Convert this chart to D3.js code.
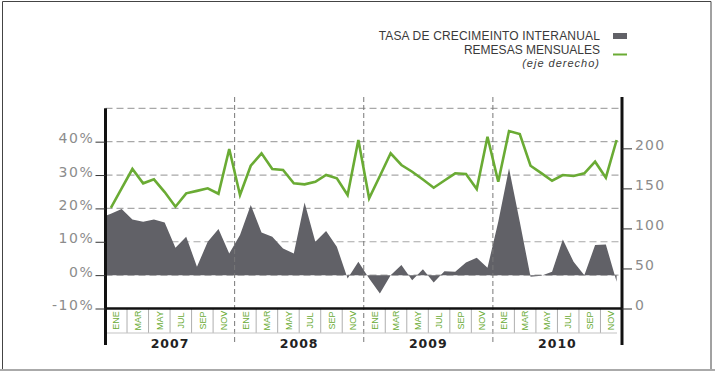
<!DOCTYPE html>
<html>
<head>
<meta charset="utf-8">
<script src="https://cdn.jsdelivr.net/npm/d3@7"></script>
<style>
  body { margin: 0; background: #fff; }
  svg { display: block; }
</style>
</head>
<body>
<div id="chart"></div>
<script>
// Data
const years = [2007, 2008, 2009, 2010];
const monthNames = ["ENE","FEB","MAR","ABR","MAY","JUN","JUL","AGO","SEP","OCT","NOV","DIC"];
const labelMonths = ["ENE","MAR","MAY","JUL","SEP","NOV"];

// remesas mensuales (eje derecho), ene 2007 - dic 2010
const remesas2007 = [125.8, 149.9, 174.2, 156.3, 161.3, 145.4, 127.1, 143.8, 146.9, 150.1, 143.3, 199.1];
const remesas2008 = [141.7, 178.3, 193.8, 174.2, 172.9, 156.3, 155.0, 158.3, 166.7, 162.5, 141.7, 210.4];
const remesas2009 = [137.6, 165.4, 193.8, 179.2, 170.8, 161.0, 150.8, 159.8, 168.8, 167.9, 149.2, 214.5];
const remesas2010 = [158.3, 221.6, 217.9, 178.3, 169.0, 159.6, 166.7, 165.4, 168.8, 183.3, 163.3, 210.4];

// tasa de crecimiento interanual (%), starts dic 2006 (clipped at the axis)
const crecimientoDic2006 = 17.2;
const crecimiento2007 = [18.4, 19.8, 16.7, 16.0, 16.7, 15.8, 8.2, 11.5, 2.5, 10.0, 13.8, 6.5];
const crecimiento2008 = [12.0, 21.0, 12.8, 11.5, 8.0, 6.5, 21.8, 10.0, 13.2, 8.5, -1.0, 4.0];
const crecimiento2009 = [-1.0, -5.5, 0.0, 3.0, -1.5, 1.8, -2.2, 1.2, 1.0, 3.8, 5.2, 2.2];
const crecimiento2010 = [16.0, 32.0, 16.0, -0.5, -0.2, 1.0, 10.7, 4.0, 0.0, 9.0, 9.2, -2.0];

const leftTicks = [-10, 0, 10, 20, 30, 40];
const gridTicks = [0, 10, 20, 30, 40, 50];
const rightTicks = [0, 50, 100, 150, 200];

const green = "#6aab34";
const grayFill = "#616167";

// build series
const remesas = [...remesas2007, ...remesas2008, ...remesas2009, ...remesas2010]
  .map((v, i) => ({ i, v }));
const crecimiento = [crecimientoDic2006, ...crecimiento2007, ...crecimiento2008, ...crecimiento2009, ...crecimiento2010]
  .map((v, i) => ({ i: i - 1, v }));

const width = 715, height = 371;
const plot = { left: 105.5, right: 622, top: 108.3, bottom: 308.5 };

const svg = d3.select('#chart').append('svg')
  .attr('width', width)
  .attr('height', height)
  .attr('viewBox', `0 0 ${width} ${height}`);

const x = d3.scaleLinear().domain([-0.5, 47.5]).range([plot.left, plot.right]);
const yL = d3.scaleLinear().domain([-10, 50]).range([plot.bottom, plot.top]);
const yR = d3.scaleLinear().domain([0, 250]).range([plot.bottom, plot.top]);

// frame
svg.append('path')
  .attr('d', `M2.5,369 V1.5 H711 V369`)
  .attr('fill', 'none')
  .attr('stroke', '#444')
  .attr('stroke-width', 1);
svg.append('rect')
  .attr('x', 0).attr('y', 369).attr('width', width).attr('height', 2)
  .attr('fill', '#aaa');

// clip
svg.append('clipPath').attr('id', 'plotclip')
  .append('rect')
  .attr('x', plot.left).attr('y', 90)
  .attr('width', plot.right - plot.left).attr('height', plot.bottom - 90);

// horizontal gridlines
svg.append('g')
  .attr('class', 'gridlines')
  .selectAll('line')
  .data(gridTicks)
  .join('line')
  .attr('x1', plot.left).attr('x2', plot.right)
  .attr('y1', d => yL(d)).attr('y2', d => yL(d))
  .attr('stroke', '#a8a8a8')
  .attr('stroke-width', 1.2)
  .attr('stroke-dasharray', '7,4');

// growth area
const area = d3.area()
  .x(d => x(d.i))
  .y0(yL(0))
  .y1(d => yL(d.v));

svg.append('path')
  .datum(crecimiento)
  .attr('clip-path', 'url(#plotclip)')
  .attr('d', area)
  .attr('fill', grayFill);

// year separators
svg.append('g')
  .selectAll('line')
  .data(years.slice(1))
  .join('line')
  .attr('x1', (d, k) => x((k + 1) * 12 - 0.5))
  .attr('x2', (d, k) => x((k + 1) * 12 - 0.5))
  .attr('y1', 97).attr('y2', 345)
  .attr('stroke', '#777')
  .attr('stroke-width', 1)
  .attr('stroke-dasharray', '5,3');

// remesas line
const line = d3.line()
  .x(d => x(d.i))
  .y(d => yR(d.v));

svg.append('path')
  .datum(remesas)
  .attr('d', line)
  .attr('fill', 'none')
  .attr('stroke', green)
  .attr('stroke-width', 2.6)
  .attr('stroke-linejoin', 'miter');

// month cells under the axis
const cells = [];
years.forEach((yr, k) => {
  labelMonths.forEach((m, j) => cells.push({ m, start: k * 12 + j * 2 }));
});

const cellG = svg.append('g');
cellG.selectAll('line.sep')
  .data(cells.filter(c => c.start % 12 !== 0))
  .join('line')
  .attr('class', 'sep')
  .attr('x1', d => x(d.start - 0.5)).attr('x2', d => x(d.start - 0.5))
  .attr('y1', plot.bottom).attr('y2', 333)
  .attr('stroke', '#9a9a9a')
  .attr('stroke-width', 0.8);

cellG.append('line')
  .attr('x1', plot.left).attr('x2', x(47.5) - 5)
  .attr('y1', 333).attr('y2', 333)
  .attr('stroke', '#c4c4c4')
  .attr('stroke-width', 1.2);

cellG.selectAll('text')
  .data(cells)
  .join('text')
  .attr('transform', d => `translate(${x(d.start + 0.5) + 3.2},320.5) rotate(-90)`)
  .attr('text-anchor', 'middle')
  .attr('font-family', 'Liberation Sans, Arial, sans-serif')
  .attr('font-size', 9)
  .attr('fill', green)
  .text(d => d.m);

// year labels
svg.append('g')
  .selectAll('text')
  .data(years)
  .join('text')
  .attr('x', (d, k) => x(k * 12 + 5.5))
  .attr('y', 347.5)
  .attr('text-anchor', 'middle')
  .attr('font-family', 'DejaVu Sans, sans-serif')
  .attr('font-weight', 'bold')
  .attr('font-size', 12.5)
  .attr('letter-spacing', 1)
  .attr('fill', '#222')
  .text(d => d);

// axes lines
svg.append('line')
  .attr('x1', plot.left).attr('x2', plot.left)
  .attr('y1', plot.top).attr('y2', 345)
  .attr('stroke', '#111').attr('stroke-width', 3);
svg.append('line')
  .attr('x1', plot.right).attr('x2', plot.right)
  .attr('y1', 97).attr('y2', 345)
  .attr('stroke', '#111').attr('stroke-width', 3);
svg.append('line')
  .attr('x1', plot.left).attr('x2', plot.right)
  .attr('y1', plot.bottom).attr('y2', plot.bottom)
  .attr('stroke', '#111').attr('stroke-width', 2.5);

// left axis
const yAxisL = d3.axisLeft(yL)
  .tickValues(leftTicks)
  .tickSize(10)
  .tickPadding(1)
  .tickFormat(d => d + '%');

const gL = svg.append('g')
  .attr('transform', `translate(${plot.left},0)`)
  .call(yAxisL);
gL.select('.domain').remove();
gL.selectAll('line').attr('stroke', '#333');
gL.selectAll('text')
  .attr('dy', 0)
  .attr('y', 1)
  .attr('font-family', 'DejaVu Sans, sans-serif')
  .attr('font-size', 14)
  .attr('letter-spacing', 1.6)
  .attr('fill', '#8c8c8c');

// right axis
const yAxisR = d3.axisRight(yR)
  .tickValues(rightTicks)
  .tickSize(10)
  .tickPadding(3);

const gR = svg.append('g')
  .attr('transform', `translate(${plot.right},0)`)
  .call(yAxisR);
gR.select('.domain').remove();
gR.selectAll('line').attr('stroke', '#333');
gR.selectAll('text')
  .attr('dy', 0)
  .attr('y', 1)
  .attr('font-family', 'DejaVu Sans, sans-serif')
  .attr('font-size', 14)
  .attr('letter-spacing', 1.2)
  .attr('fill', '#8c8c8c');

// legend
const legend = svg.append('g')
  .attr('font-family', 'Liberation Sans, Arial, sans-serif')
  .attr('font-size', 12)
  .attr('fill', '#3a3a3a');

legend.append('text')
  .attr('x', 600).attr('y', 40)
  .attr('text-anchor', 'end')
  .attr('letter-spacing', 0.17)
  .text('TASA DE CRECIMEINTO INTERANUAL');
legend.append('rect')
  .attr('x', 613).attr('y', 33)
  .attr('width', 14).attr('height', 6)
  .attr('fill', grayFill);

legend.append('text')
  .attr('x', 600).attr('y', 54)
  .attr('text-anchor', 'end')
  .text('REMESAS MENSUALES');
legend.append('text')
  .attr('x', 600).attr('y', 66.5)
  .attr('text-anchor', 'end')
  .attr('font-style', 'italic')
  .attr('font-size', 11)
  .attr('letter-spacing', 1)
  .text('(eje derecho)');
legend.append('line')
  .attr('x1', 613).attr('x2', 627)
  .attr('y1', 54.5).attr('y2', 54.5)
  .attr('stroke', green)
  .attr('stroke-width', 2);
</script>
</body>
</html>
